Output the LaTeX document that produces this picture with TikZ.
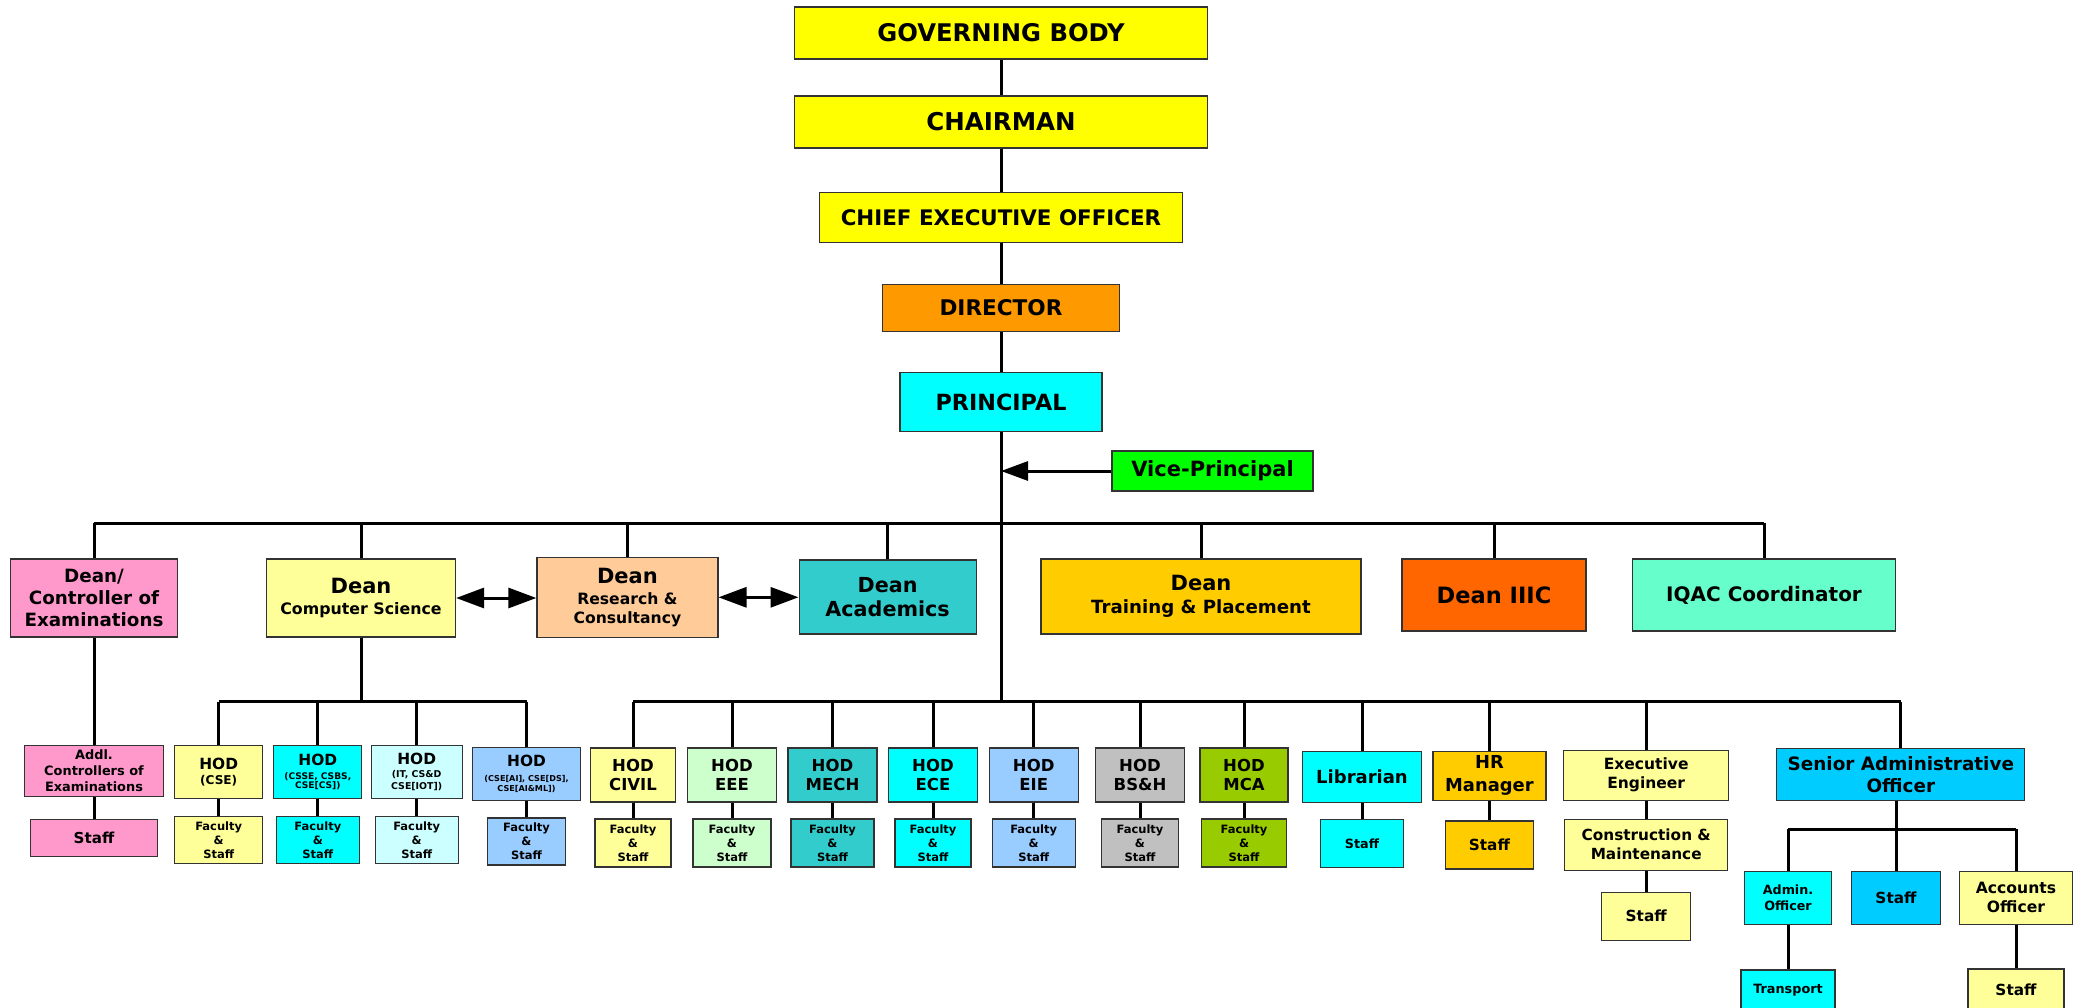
\documentclass[tikz,border=0pt]{standalone}
\usepackage{fontspec}
\setmainfont{DejaVu Sans}
\usetikzlibrary{arrows.meta}

\definecolor{cyellow}{HTML}{FFFF00}
\definecolor{corange}{HTML}{FF9900}
\definecolor{ccyan}{HTML}{00FFFF}
\definecolor{cgreen}{HTML}{00FF00}
\definecolor{cpink}{HTML}{FF99CC}
\definecolor{cpale}{HTML}{FFFF99}
\definecolor{ctan}{HTML}{FFCC99}
\definecolor{cteal}{HTML}{33CCCC}
\definecolor{cgold}{HTML}{FFCC00}
\definecolor{cred}{HTML}{FF6600}
\definecolor{caqua}{HTML}{66FFCC}
\definecolor{cice}{HTML}{CCFFFF}
\definecolor{csky}{HTML}{99CCFF}
\definecolor{cmint}{HTML}{CCFFCC}
\definecolor{cgrey}{HTML}{C0C0C0}
\definecolor{colive}{HTML}{99CC00}
\definecolor{cblue}{HTML}{00CCFF}

\newcommand{\fz}[2]{\fontsize{#1pt}{#2pt}\selectfont}
\newcommand{\bfz}[2]{\bfseries\fontsize{#1pt}{#2pt}\selectfont}

\begin{document}
\begin{tikzpicture}[x=1pt, y=-1pt]
\tikzstyle{box}=[draw=black!80, line width=1.2pt, inner sep=0pt, align=center]
\tikzstyle{link}=[line width=3pt]
\tikzstyle{dbl}=[{Triangle[length=28pt,width=20pt]}-{Triangle[length=28pt,width=20pt]}]

\useasboundingbox (0,0) rectangle (2075,1008);

% top chain
\node[box, fill=cyellow, minimum width=413, minimum height=52, font=\bfz{24.3}{26}] (gb) at (1001, 33) {GOVERNING BODY};
\node[box, fill=cyellow, minimum width=413, minimum height=52, font=\bfz{24.5}{26}] (chair) at (1001, 122) {CHAIRMAN};
\node[box, fill=cyellow, minimum width=363, minimum height=50, font=\bfz{21.4}{24}] (ceo) at (1001, 217.5) {CHIEF EXECUTIVE OFFICER};
\node[box, fill=corange, minimum width=237, minimum height=47, font=\bfz{21.6}{24}] (dir) at (1001, 307.7) {DIRECTOR};
\node[box, fill=ccyan, minimum width=202, minimum height=59, font=\bfz{22.3}{24}] (prin) at (1001, 402) {PRINCIPAL};
\node[box, fill=cgreen, minimum width=201, minimum height=40, font=\bfz{21}{24}] (vp) at (1212.5, 471) {Vice-Principal};

\coordinate (bus1) at (1001, 523.3);
\coordinate (bus2) at (1001, 701.7);
\coordinate (bus3) at (361, 701.7);
\coordinate (bus4) at (1896, 829.3);

% deans
\node[box, fill=cpink, minimum width=167, minimum height=78, font=\bfz{18.3}{21.7}] (dcoe) at (94, 598) {Dean/\\Controller of\\Examinations};
\node[box, fill=cpale, minimum width=189, minimum height=78, font=\bfz{15.8}{21.5}] (dcs) at (361, 598) {\fz{21}{21}Dean\\Computer Science};
\node[box, fill=ctan, minimum width=181, minimum height=80, font=\bfz{15.6}{18.3}] (drc) at (627.4, 597.3) {\fz{21}{21}Dean\\[3.4pt]Research \&\\Consultancy};
\node[box, fill=cteal, minimum width=177, minimum height=74, font=\bfz{20.7}{24}] (dac) at (887.6, 597) {Dean\\Academics};
\node[box, fill=cgold, minimum width=320, minimum height=75, font=\bfz{18.2}{22.6}] (dtp) at (1201, 596.5) {\fz{21}{21}Dean\\Training \& Placement};
\node[box, fill=cred, minimum width=184, minimum height=72, font=\bfz{22.5}{24}] (diiic) at (1494, 595) {Dean IIIC};
\node[box, fill=caqua, minimum width=263, minimum height=72, font=\bfz{20}{24}] (iqac) at (1764, 595) {IQAC Coordinator};

% examinations
\node[box, fill=cpink, minimum width=139, minimum height=51, font=\bfz{12.9}{16}] (addl) at (94, 771) {Addl.\\Controllers of\\Examinations};
\node[box, fill=cpink, minimum width=127, minimum height=37, font=\bfz{15.1}{18}] (coestaff) at (94, 838) {Staff};

% computer science departments
\node[box, fill=cpale, minimum width=88, minimum height=53, font=\bfz{12.1}{15.7}] (hcse) at (218.7, 772) {\fz{15.4}{16}HOD\\(CSE)};
\node[box, fill=ccyan, minimum width=88, minimum height=53, font=\bfz{9.1}{9}] (hcsse) at (317.8, 772) {\fz{15.4}{16}HOD\\[4.3pt](CSSE, CSBS,\\CSE[CS])};
\node[box, fill=cice, minimum width=91, minimum height=53, font=\bfz{9.4}{11.7}] (hit) at (416.7, 772) {\fz{15.4}{16}HOD\\[1.6pt](IT, CS\&D\\CSE[IOT])};
\node[box, fill=csky, minimum width=108, minimum height=53, font=\bfz{8.1}{10}] (hai) at (526.5, 773.7) {\fz{15.4}{16}HOD\\[4.4pt](CSE[AI], CSE[DS],\\CSE[AI\&ML])};

\node[box, fill=cpale, minimum width=88, minimum height=47, font=\bfz{11.5}{14}] (fcse) at (218.7, 840) {Faculty\\\&\\Staff};
\node[box, fill=ccyan, minimum width=83, minimum height=47, font=\bfz{11.5}{14}] (fcsse) at (317.8, 840) {Faculty\\\&\\Staff};
\node[box, fill=cice, minimum width=83, minimum height=47, font=\bfz{11.5}{14}] (fit) at (416.7, 840) {Faculty\\\&\\Staff};
\node[box, fill=csky, minimum width=78, minimum height=47, font=\bfz{11.5}{14}] (fai) at (526.5, 841.5) {Faculty\\\&\\Staff};

% other departments
\node[box, fill=cpale, minimum width=85, minimum height=54, font=\bfz{16.5}{18.7}] (hciv) at (633, 775) {HOD\\CIVIL};
\node[box, fill=cmint, minimum width=89, minimum height=54, font=\bfz{16.5}{18.7}] (heee) at (732, 775) {HOD\\EEE};
\node[box, fill=cteal, minimum width=89, minimum height=54, font=\bfz{16.5}{18.7}] (hmech) at (832.5, 775) {HOD\\MECH};
\node[box, fill=ccyan, minimum width=89, minimum height=54, font=\bfz{16.5}{18.7}] (hece) at (933, 775) {HOD\\ECE};
\node[box, fill=csky, minimum width=89, minimum height=54, font=\bfz{16.5}{18.7}] (heie) at (1033.7, 775) {HOD\\EIE};
\node[box, fill=cgrey, minimum width=89, minimum height=54, font=\bfz{16.5}{18.7}] (hbsh) at (1140, 775) {HOD\\BS\&H};
\node[box, fill=colive, minimum width=88, minimum height=54, font=\bfz{16.5}{18.7}] (hmca) at (1244, 775) {HOD\\MCA};

\node[box, fill=cpale, minimum width=76, minimum height=48, font=\bfz{11.5}{14}] (fciv) at (633, 843) {Faculty\\\&\\Staff};
\node[box, fill=cmint, minimum width=78, minimum height=48, font=\bfz{11.5}{14}] (feee) at (732, 843) {Faculty\\\&\\Staff};
\node[box, fill=cteal, minimum width=83, minimum height=48, font=\bfz{11.5}{14}] (fmech) at (832.5, 843) {Faculty\\\&\\Staff};
\node[box, fill=ccyan, minimum width=76, minimum height=48, font=\bfz{11.5}{14}] (fece) at (933, 843) {Faculty\\\&\\Staff};
\node[box, fill=csky, minimum width=83, minimum height=48, font=\bfz{11.5}{14}] (feie) at (1033.7, 843) {Faculty\\\&\\Staff};
\node[box, fill=cgrey, minimum width=77, minimum height=48, font=\bfz{11.5}{14}] (fbsh) at (1140, 843) {Faculty\\\&\\Staff};
\node[box, fill=colive, minimum width=85, minimum height=48, font=\bfz{11.5}{14}] (fmca) at (1244, 843) {Faculty\\\&\\Staff};

% library, hr, works
\node[box, fill=ccyan, minimum width=119, minimum height=51, font=\bfz{18}{22}] (lib) at (1362, 776.7) {Librarian};
\node[box, fill=ccyan, minimum width=83, minimum height=48, font=\bfz{12.7}{16}] (libstaff) at (1362, 843.3) {Staff};
\node[box, fill=cgold, minimum width=113, minimum height=49, font=\bfz{17.9}{22.7}] (hr) at (1489.4, 775.7) {HR\\Manager};
\node[box, fill=cgold, minimum width=88, minimum height=48, font=\bfz{15.3}{18}] (hrstaff) at (1489.4, 845) {Staff};
\node[box, fill=cpale, minimum width=165, minimum height=50, font=\bfz{15.5}{19}] (ee) at (1646.2, 775.2) {Executive\\Engineer};
\node[box, fill=cpale, minimum width=163, minimum height=51, font=\bfz{15.3}{19}] (cm) at (1646.2, 844.7) {Construction \&\\Maintenance};
\node[box, fill=cpale, minimum width=89, minimum height=48, font=\bfz{15.3}{18}] (eestaff) at (1646.2, 916.2) {Staff};

% administration
\node[box, fill=cblue, minimum width=248, minimum height=52, font=\bfz{18.4}{21.7}] (sao) at (1900.8, 774.5) {Senior Administrative\\Officer};
\node[box, fill=ccyan, minimum width=87, minimum height=53, font=\bfz{12.7}{16}] (adm) at (1788, 897.7) {Admin.\\Officer};
\node[box, fill=cblue, minimum width=89, minimum height=53, font=\bfz{15.3}{18}] (saostaff) at (1896, 897.7) {Staff};
\node[box, fill=cpale, minimum width=113, minimum height=53, font=\bfz{15.6}{19}] (acc) at (2016, 897.7) {Accounts\\Officer};
\node[box, fill=ccyan, minimum width=94, minimum height=40, font=\bfz{12.8}{16}] (trans) at (1788, 990) {Transport};
\node[box, fill=cpale, minimum width=96, minimum height=42, font=\bfz{15.3}{18}] (accstaff) at (2016, 990) {Staff};

% connectors
\draw[link] (gb) -- (chair);
\draw[link] (chair) -- (ceo);
\draw[link] (ceo) -- (dir);
\draw[link] (dir) -- (prin);
\draw[link] (prin.south) -- (prin.south |- bus2);
\draw[link, -{Triangle[length=27pt,width=19pt]}] (vp.west) -- (prin.south |- vp.west);

\draw[link] (dcoe.north |- bus1) -- (iqac.north |- bus1);
\foreach \n in {dcoe,dcs,drc,dac,dtp,diiic,iqac}
  \draw[link] (\n.north) -- (\n.north |- bus1);

\draw[link, dbl] (dcs.east) -- (dcs.east -| drc.west);
\draw[link, dbl] (drc.east) -- (drc.east -| dac.west);

\draw[link] (dcoe) -- (addl);
\draw[link] (addl) -- (coestaff);

\draw[link] (dcs.south) -- (dcs.south |- bus3);
\draw[link] (hcse.north |- bus3) -- (hai.north |- bus3);
\foreach \n in {hcse,hcsse,hit,hai}
  \draw[link] (\n.north) -- (\n.north |- bus3);

\draw[link] (hciv.north |- bus2) -- (sao.north |- bus2);
\foreach \n in {hciv,heee,hmech,hece,heie,hbsh,hmca,lib,hr,ee,sao}
  \draw[link] (\n.north) -- (\n.north |- bus2);

\foreach \a/\b in {hcse/fcse,hcsse/fcsse,hit/fit,hai/fai,hciv/fciv,heee/feee,hmech/fmech,hece/fece,heie/feie,hbsh/fbsh,hmca/fmca,lib/libstaff,hr/hrstaff,ee/cm,cm/eestaff,adm/trans,acc/accstaff}
  \draw[link] (\a) -- (\b);

\draw[link] (sao.south -| bus4) -- (bus4);
\draw[link] (adm.north |- bus4) -- (acc.north |- bus4);
\foreach \n in {adm,saostaff,acc}
  \draw[link] (\n.north) -- (\n.north |- bus4);

\end{tikzpicture}
\end{document}
